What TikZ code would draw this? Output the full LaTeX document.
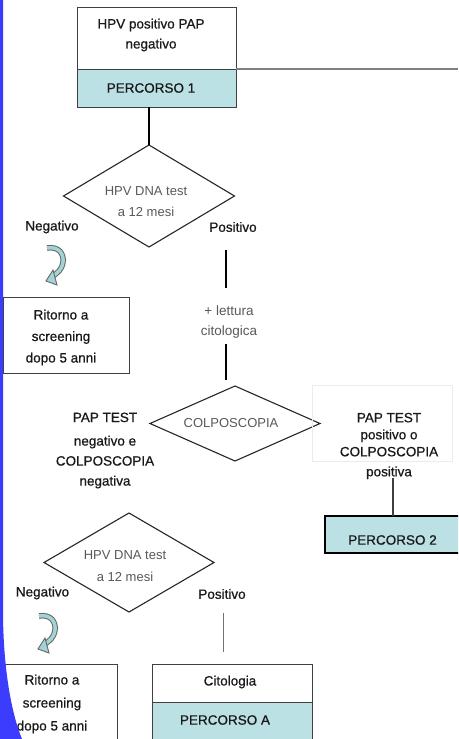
\documentclass[tikz,border=0pt]{standalone}
\usepackage{fontspec}
\setmainfont{Liberation Sans}
\newfontfamily\darkfont{Liberation Sans}[FakeBold=0.7]
\usetikzlibrary{shapes.geometric}
\definecolor{tealfill}{HTML}{BCE1E4}
\definecolor{bluestrip}{RGB}{60,60,255}
\definecolor{arrowteal}{HTML}{A3D3D6}
\begin{document}
\begin{tikzpicture}[x=1pt,y=-1pt,
  rect/.style={draw=black!75, line width=0.9pt, inner sep=0pt, outer sep=0pt},
  tealrect/.style={rect, fill=tealfill},
  dia/.style={diamond, draw=black!85, line width=1.1pt, inner sep=0pt, outer sep=0pt},
  txt/.style={font=\darkfont\fontsize{13.5}{20}\selectfont, text=black!90, align=center, inner sep=0pt},
  graytxt/.style={font=\fontsize{13.5}{20}\selectfont, align=center, inner sep=0pt, text=black!65},
  conn/.style={draw=black, line width=1.3pt},
  thickconn/.style={draw=black, line width=2pt},
  thinconn/.style={draw=black!55, line width=0.8pt},
  uturn/.pic={
    \draw[line width=5.5pt, draw=black!60] (2,3) .. controls (14,1) and (19,9) .. (18,17) .. controls (17,25) and (12,28) .. (8,31);
    \draw[line width=3.5pt, draw=arrowteal] (2,3) .. controls (14,1) and (19,9) .. (18,17) .. controls (17,25) and (12,28) .. (8,31);
    \filldraw[fill=arrowteal, draw=black!60, line width=0.9pt, line join=miter] (1,36) -- (8,25) -- (12,40) -- cycle;
  }]
\useasboundingbox (0,0) rectangle (458,739);
\clip (0,0) rectangle (458,739);
\fill[white] (0,0) rectangle (458,739);

% top box
\node[rect, minimum width=159, minimum height=62] (b1) at (156.5,38) {};
\node[tealrect, minimum width=159, minimum height=38] (p1) at (156.5,88) {};
\node[txt] (t1) at (151,35) {HPV positivo PAP\\negativo};
\node[txt] (t1b) at (151,88) {PERCORSO 1};
\coordinate (rend) at (458,69);
\draw[draw=black!50, line width=1.8pt] (p1.north east) -- (rend);

% diamond 1
\node[dia, minimum width=171, minimum height=102] (d1) at (149,196) {};
\draw[conn] (p1.south -| d1.north) -- (d1.north);
\node[graytxt, font=\fontsize{13}{21}\selectfont] (d1t) at (146,201.5) {HPV DNA test\\a 12 mesi};
\node[txt] (neg1) at (52,227) {Negativo};
\node[txt] (pos1) at (233,227) {Positivo};
\pic at (45,245) {uturn};
\node[rect, minimum width=126, minimum height=76] (r1) at (66,335) {};
\node[txt, font=\darkfont\fontsize{13.5}{21.5}\selectfont] (r1t) at (61,337.5) {Ritorno a\\screening\\dopo 5 anni};

% positivo branch
\coordinate (c1) at (226,250);
\coordinate (c2) at (226,288);
\coordinate (c3) at (226,344);
\coordinate (c4) at (226,380);
\draw[thickconn] (c1) -- (c2);
\draw[thickconn] (c3) -- (c4);
\node[graytxt] (lett) at (229,322) {+ lettura\\citologica};

% diamond 2
\node[dia, minimum width=170, minimum height=75] (d2) at (235,423.5) {};
\node[graytxt, font=\fontsize{13}{17}\selectfont] (d2t) at (231,423) {COLPOSCOPIA};
\node[txt] (ln) at (105,450.5) {PAP TEST\\[3.5pt]negativo e\\COLPOSCOPIA\\negativa};
\node[draw=black!8, line width=0.8pt, inner sep=0pt, minimum width=140, minimum height=76] (rbox) at (382,423) {};
\node[txt, font=\darkfont\fontsize{13.5}{17}\selectfont] (rt) at (389,446) {PAP TEST\\positivo o\\COLPOSCOPIA\\[3pt]positiva};
\coordinate (c5) at (393,478);
\node[tealrect, draw=black, line width=2pt, minimum width=140, minimum height=37] (p2) at (395,534.5) {};
\draw[draw=black!75, line width=1.1pt] (c5) -- (c5 |- p2.north);
\node[txt] (p2t) at (392.5,540) {PERCORSO 2};

% diamond 3
\node[dia, minimum width=170, minimum height=99] (d3) at (129,562.5) {};
\node[graytxt, font=\fontsize{13}{22}\selectfont] (d3t) at (125,566) {HPV DNA test\\a 12 mesi};
\node[txt] (neg2) at (42.5,593) {Negativo};
\node[txt] (pos2) at (222,594) {Positivo};
\pic at (37,613) {uturn};
\coordinate (c6) at (223,613);
\coordinate (c7) at (223,652);
\draw[thinconn] (c6) -- (c7);
\node[rect, minimum width=114, minimum height=86] (r2) at (60,707) {};
\node[txt, font=\darkfont\fontsize{13.5}{23}\selectfont] (r2t) at (52,704) {Ritorno a\\screening\\dopo 5 anni};
\node[rect, minimum width=160, minimum height=38] (cit) at (232,683) {};
\node[tealrect, minimum width=160, minimum height=48] (pa) at (232,726) {};
\node[txt] (citt) at (230,682) {Citologia};
\node[txt] (pat) at (225,720) {PERCORSO A};

% blue strip
\fill[bluestrip] (0,0) -- (3,0) -- (3,610) .. controls (3,670) and (12,715) .. (22,739) -- (0,739) -- cycle;
\end{tikzpicture}
\end{document}
